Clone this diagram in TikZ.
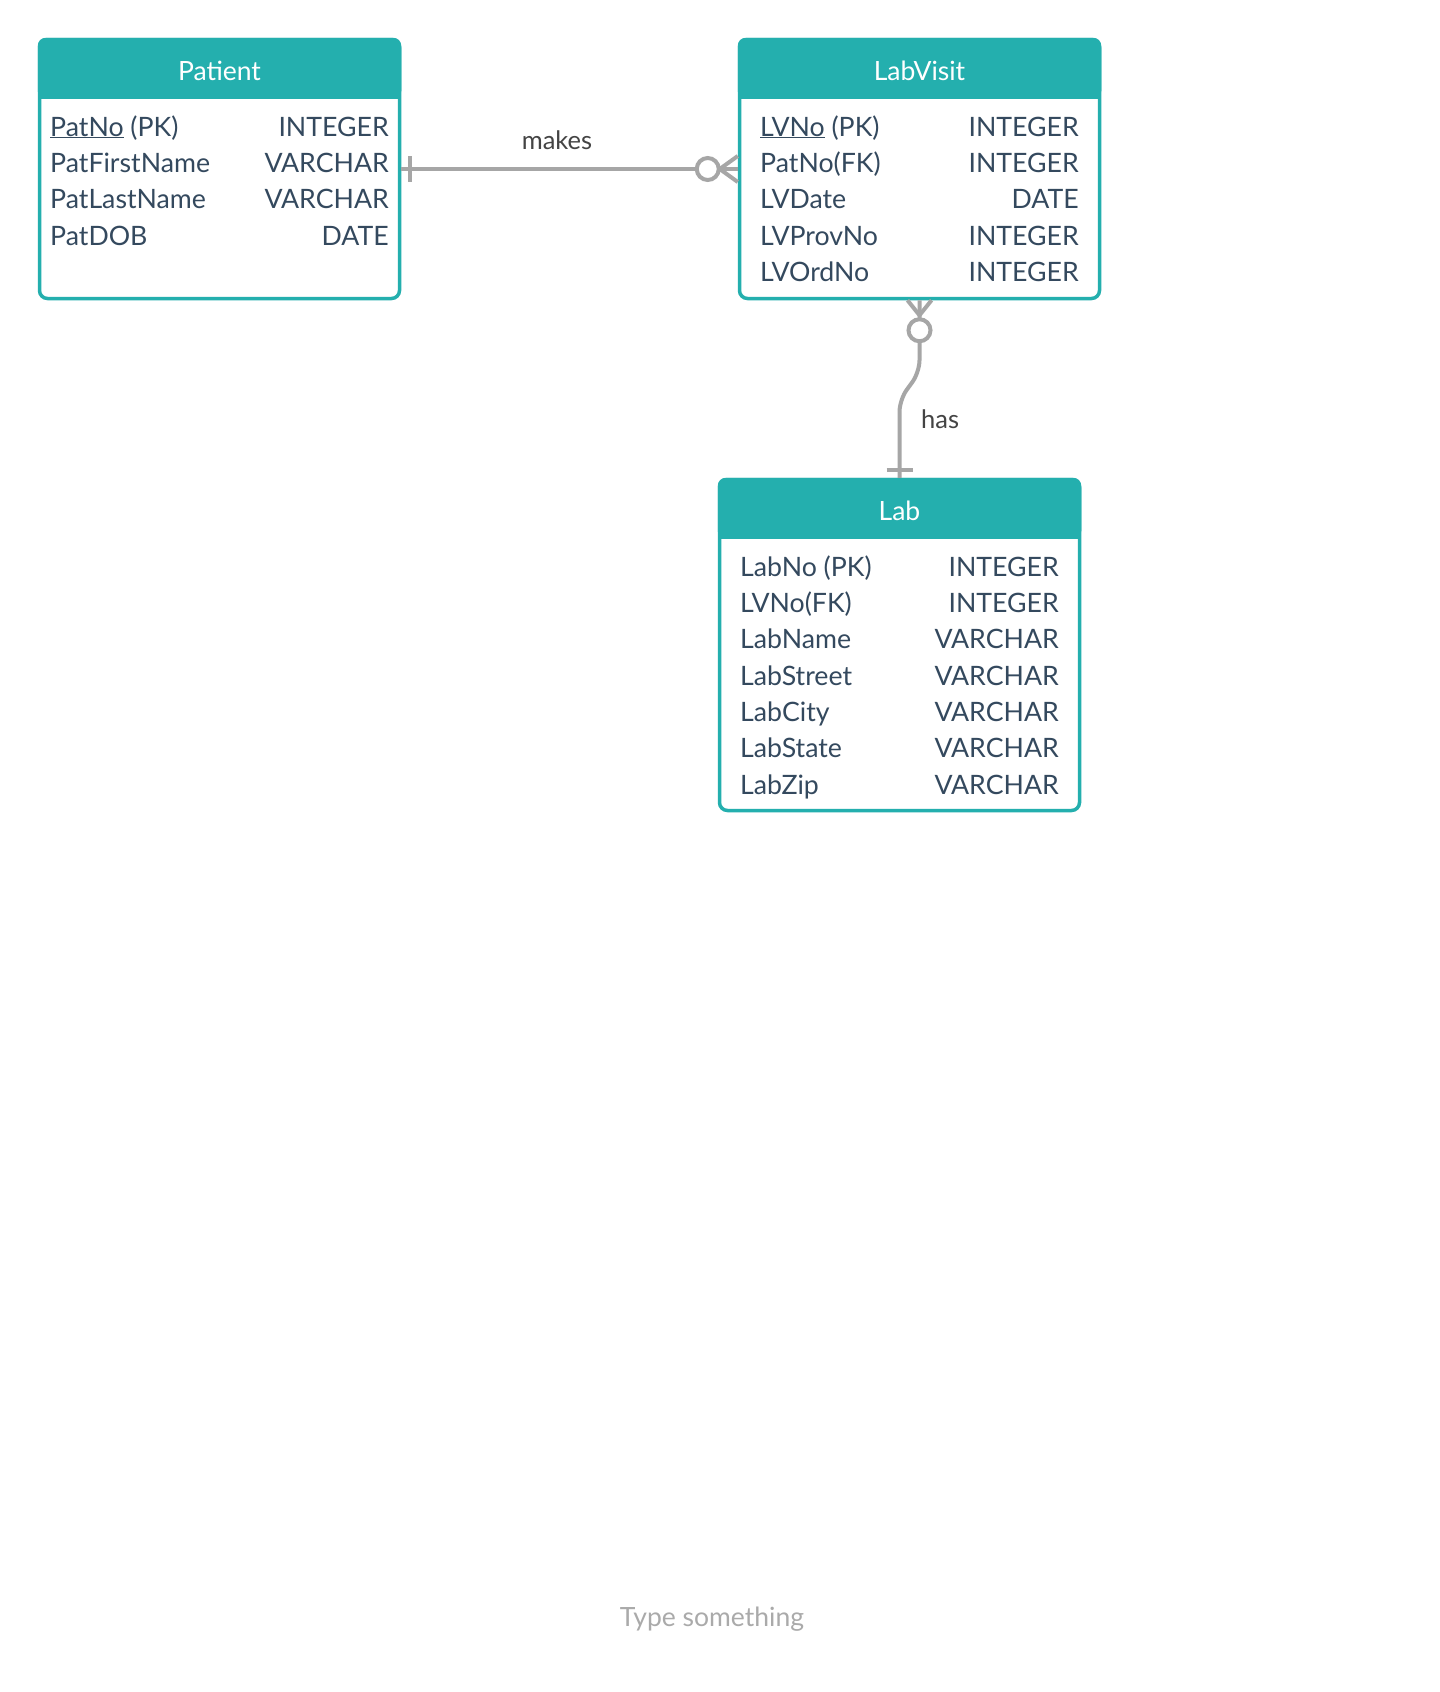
\documentclass[tikz,border=0pt]{standalone}
\usepackage{fontspec}
\setmainfont{Lato}
\usetikzlibrary{calc}
\definecolor{erteal}{RGB}{36,175,174}
\definecolor{erfield}{RGB}{52,73,94}
\definecolor{erline}{RGB}{166,166,166}
\definecolor{erlabel}{RGB}{68,68,68}
\definecolor{ertype}{RGB}{170,170,170}

\begin{document}
\begin{tikzpicture}[x=1pt,y=-1pt,
  entity/.style={draw=erteal,fill=white,line width=3.5pt,rounded corners=8pt,minimum width=360pt},
  entityhead/.style={text=white,font=\fontsize{26.5}{30}\selectfont,anchor=base,inner sep=0pt},
  entityfield/.style={text=erfield,font=\fontsize{26.7}{30}\selectfont,anchor=base west,inner sep=0pt},
  entitytype/.style={text=erfield,font=\fontsize{26.7}{30}\selectfont,anchor=base east,inner sep=0pt},
  rel/.style={draw=erline,line width=4pt},
  rellabel/.style={text=erlabel,font=\fontsize{25.5}{30}\selectfont,inner sep=0pt}]
\fill[white] (0,0) rectangle (1440,1692);
\useasboundingbox (0,0) rectangle (1440,1692);

% tables
\node[entity,minimum height=259pt] (patient) at (219.5,169) {};
\node[entity,minimum height=259pt] (labvisit) at (919.5,169) {};
\node[entity,minimum height=331pt] (lab) at (899.5,645) {};

\fill[erteal,rounded corners=8pt] (patient.north west) rectangle ($(patient.north east)+(0,61)$);
\fill[erteal] ($(patient.north west)+(0,30)$) rectangle ($(patient.north east)+(0,61)$);
\fill[erteal,rounded corners=8pt] (labvisit.north west) rectangle ($(labvisit.north east)+(0,61)$);
\fill[erteal] ($(labvisit.north west)+(0,30)$) rectangle ($(labvisit.north east)+(0,61)$);
\fill[erteal,rounded corners=8pt] (lab.north west) rectangle ($(lab.north east)+(0,61)$);
\fill[erteal] ($(lab.north west)+(0,30)$) rectangle ($(lab.north east)+(0,61)$);

\node[entityhead] (patienthead) at (219.5,80) {Patient};
\node[entityhead] (labvisithead) at (919.5,80) {LabVisit};
\node[entityhead] (labhead) at (899.5,520) {Lab};

% Patient
\node[entityfield] (p1) at (50,136) {\underline{PatNo} (PK)};
\node[entityfield] (p2) at (50,172.3) {PatFirstName};
\node[entityfield] (p3) at (50,208.6) {PatLastName};
\node[entityfield] (p4) at (50,245) {PatDOB};
\node[entitytype] (pt1) at (389,136) {INTEGER};
\node[entitytype] (pt2) at (389,172.3) {VARCHAR};
\node[entitytype] (pt3) at (389,208.6) {VARCHAR};
\node[entitytype] (pt4) at (389,245) {DATE};

% LabVisit
\node[entityfield] (v1) at (760,136) {\underline{LVNo} (PK)};
\node[entityfield] (v2) at (760,172.3) {PatNo(FK)};
\node[entityfield] (v3) at (760,208.6) {LVDate};
\node[entityfield] (v4) at (760,245) {LVProvNo};
\node[entityfield] (v5) at (760,281.2) {LVOrdNo};
\node[entitytype] (vt1) at (1079,136) {INTEGER};
\node[entitytype] (vt2) at (1079,172.3) {INTEGER};
\node[entitytype] (vt3) at (1079,208.6) {DATE};
\node[entitytype] (vt4) at (1079,245) {INTEGER};
\node[entitytype] (vt5) at (1079,281.2) {INTEGER};

% Lab
\node[entityfield] (l1) at (740,576) {LabNo (PK)};
\node[entityfield] (l2) at (740,612.3) {LVNo(FK)};
\node[entityfield] (l3) at (740,648.6) {LabName};
\node[entityfield] (l4) at (740,685) {LabStreet};
\node[entityfield] (l5) at (740,721.2) {LabCity};
\node[entityfield] (l6) at (740,757.5) {LabState};
\node[entityfield] (l7) at (740,794) {LabZip};
\node[entitytype] (lt1) at (1059,576) {INTEGER};
\node[entitytype] (lt2) at (1059,612.3) {INTEGER};
\node[entitytype] (lt3) at (1059,648.6) {VARCHAR};
\node[entitytype] (lt4) at (1059,685) {VARCHAR};
\node[entitytype] (lt5) at (1059,721.2) {VARCHAR};
\node[entitytype] (lt6) at (1059,757.5) {VARCHAR};
\node[entitytype] (lt7) at (1059,794) {VARCHAR};

% makes
\draw[rel] (patient.east) -- (labvisit.west);
\draw[rel] ($(patient.east)+(9,-13)$) -- ($(patient.east)+(9,13)$);
\draw[rel] ($(labvisit.west)+(-18,0)$) -- ($(labvisit.west)+(0,-13)$);
\draw[rel] ($(labvisit.west)+(-18,0)$) -- ($(labvisit.west)+(0,13)$);
\draw[rel,fill=white] ($(labvisit.west)+(-30,0)$) circle (11pt);
\node[rellabel,anchor=base] (makes) at (557,149) {makes};

% has
\draw[rel,rounded corners=12pt] (labvisit.south) -- ++(0,72) -- ($(lab.north)+(0,-78)$) -- (lab.north);
\draw[rel] ($(labvisit.south)+(0,15)$) -- ($(labvisit.south)+(-12,0)$);
\draw[rel] ($(labvisit.south)+(0,15)$) -- ($(labvisit.south)+(12,0)$);
\draw[rel,fill=white] ($(labvisit.south)+(0,30)$) circle (11pt);
\draw[rel] ($(lab.north)+(-13,-8)$) -- ($(lab.north)+(13,-8)$);
\node[rellabel,anchor=base west] (has) at (921,428) {has};

\node[text=ertype,font=\fontsize{26.5}{30}\selectfont,anchor=base,inner sep=0pt] (typesomething) at (712,1626) {Type something};
\end{tikzpicture}
\end{document}
